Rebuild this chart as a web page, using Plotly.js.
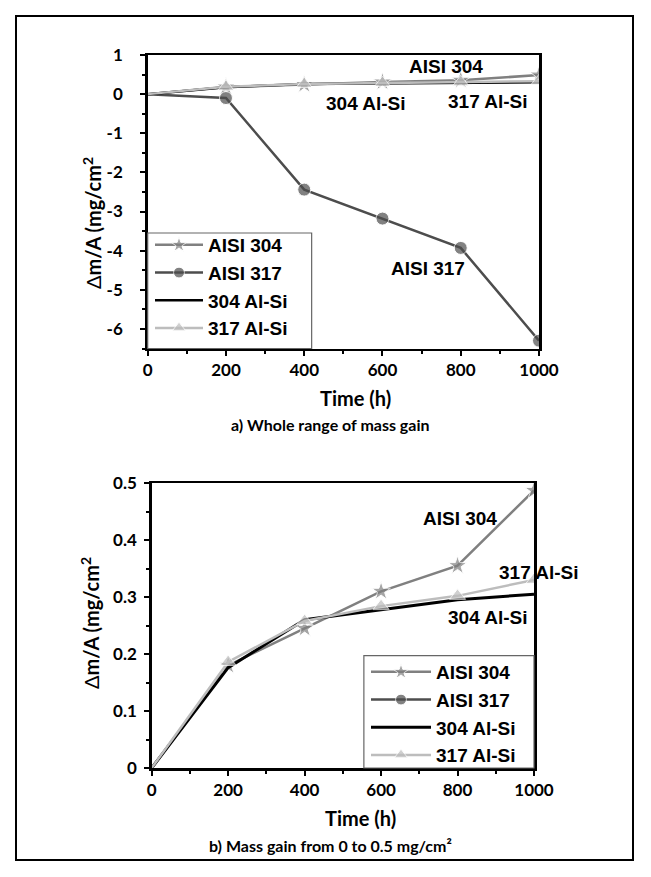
<!DOCTYPE html>
<html>
<head>
<meta charset="utf-8">
<script src="https://cdn.plot.ly/plotly-3.0.1.min.js"></script>
<style>html,body{margin:0;padding:0;background:#fff;}#chart{width:651px;height:877px;}</style>
</head>
<body>
<div id="chart"></div>
<script>
// ---- data ----
const timeH = [0, 200, 400, 600, 800, 1000];
const aisi304 = [0, 0.18, 0.245, 0.31, 0.355, 0.487];
const aisi317 = [0, -0.1, -2.44, -3.18, -3.93, -6.3];
const alsi304 = [0, 0.176, 0.26, 0.278, 0.295, 0.305];
const alsi317 = [0, 0.186, 0.258, 0.284, 0.302, 0.33];
const seriesNames = ['AISI 304', 'AISI 317', '304 Al-Si', '317 Al-Si'];
const xTicks = [0, 200, 400, 600, 800, 1000];
const yTicksA = [1, 0, -1, -2, -3, -4, -5, -6];
const yTicksB = [0, 0.1, 0.2, 0.3, 0.4, 0.5];

const W = 651, H = 877;
const px = (x, y) => ({x: x / W, y: 1 - y / H});
const hideZero = (xs, s) => xs.map(v => v === 0 ? 0 : s);

const styles = [
  {color: '#808080', symbol: 'star', size: 14, width: 2.5},
  {color: '#4d4d4d', symbol: 'circle', size: 13, width: 2.5},
  {color: '#000000', symbol: null, size: 0, width: 2.5},
  {color: '#bdbdbd', symbol: 'triangle-up', size: 14, width: 2.5}
];
const vals = [aisi304, aisi317, alsi304, alsi317];

const traces = [];
[['x', 'y', 'legend'], ['x2', 'y2', 'legend2']].forEach(([xa, ya, lg], pi) => {
  vals.forEach((v, i) => {
    const st = styles[i];
    const t = {
      x: timeH, y: v, xaxis: xa, yaxis: ya, name: seriesNames[i],
      legend: lg, legendgroup: lg + i,
      type: 'scatter',
      mode: st.symbol ? 'lines+markers' : 'lines',
      line: {color: st.color, width: (pi === 1 && i === 2) ? 3 : st.width},
      hoverinfo: 'skip'
    };
    if (st.symbol) t.marker = {symbol: st.symbol, color: st.color, size: hideZero(timeH, st.size)};
    traces.push(t);
  });
});

const tickFont = {family: 'Lato, sans-serif', size: 17, color: '#000', weight: 'bold'};
const axisCommon = {
  showgrid: false, zeroline: false, showline: true, linecolor: '#000', linewidth: 2.5,
  mirror: true, ticks: 'outside', ticklen: 5, tickwidth: 2, tickcolor: '#000',
  tickfont: tickFont, fixedrange: true
};

const annoFont = {family: 'Liberation Sans, Arial, sans-serif', size: 19, color: '#000', weight: 'bold'};
const titleFont = {family: 'Lato, sans-serif', size: 20, color: '#000', weight: 'bold'};
const capFont = {family: 'Lato, sans-serif', size: 16, color: '#000', weight: 'bold'};

function ann(text, x, y, font, extra) {
  const p = px(x, y);
  return Object.assign({text: text, xref: 'paper', yref: 'paper', x: p.x, y: p.y,
    xanchor: 'center', yanchor: 'middle', showarrow: false, font: font}, extra || {});
}

const ytitle = '<span style="font-weight:normal">Δ</span>m/A (mg/cm<sup>2</sup>';
const minorX = {dtick: 100, ticklen: 3, tickwidth: 2, ticks: 'outside', tickcolor: '#000'};

const layout = {
  width: W, height: H, margin: {l: 0, r: 0, t: 0, b: 0},
  paper_bgcolor: '#fff', plot_bgcolor: '#fff', showlegend: true,
  xaxis: Object.assign({}, axisCommon, {domain: [147.7 / W, 539 / W], range: [0, 1000],
    tickvals: xTicks, minor: minorX, anchor: 'y'}),
  yaxis: Object.assign({}, axisCommon, {domain: [1 - 348.5 / H, 1 - 55 / H], range: [-6.5, 1],
    tickvals: yTicksA, ticktext: yTicksA.map(v => String(v).replace('\u2212', '-')), ticklabelstandoff: 14,
    minor: {dtick: 0.5, ticklen: 3, tickwidth: 2, ticks: 'outside', tickcolor: '#000'}, anchor: 'x'}),
  xaxis2: Object.assign({}, axisCommon, {domain: [151.7 / W, 534 / W], range: [0, 1000],
    tickvals: xTicks, minor: minorX, anchor: 'y2'}),
  yaxis2: Object.assign({}, axisCommon, {domain: [1 - 768 / H, 1 - 483 / H], range: [0, 0.5],
    tickvals: yTicksB, ticktext: yTicksB.map(v => v === 0 ? '0' : v.toFixed(1)), ticklabelstandoff: 4,
    minor: {dtick: 0.05, ticklen: 3, tickwidth: 2, ticks: 'outside', tickcolor: '#000'}, anchor: 'x2'}),
  legend: {x: 150 / W, y: 1 - 226 / H, xanchor: 'left', yanchor: 'top', bgcolor: 'rgba(0,0,0,0)',
    borderwidth: 0, font: {family: 'Liberation Sans, Arial, sans-serif', size: 19, color: '#000', weight: 'bold'},
    traceorder: 'grouped', tracegroupgap: 0, itemwidth: 48},
  legend2: {x: 366 / W, y: 1 - 653 / H, xanchor: 'left', yanchor: 'top', bgcolor: 'rgba(0,0,0,0)',
    borderwidth: 0, font: {family: 'Liberation Sans, Arial, sans-serif', size: 19, color: '#000', weight: 'bold'},
    traceorder: 'grouped', tracegroupgap: 0, itemwidth: 60},
  shapes: [
    {type: 'rect', xref: 'paper', yref: 'paper', x0: 16 / W, x1: 633 / W, y0: 1 - 860 / H, y1: 1 - 16 / H,
      line: {color: '#000', width: 2}, layer: 'below'},
    {type: 'rect', xref: 'x domain', yref: 'y domain', x0: 0, x1: 0.419, y0: 0, y1: 0.3935,
      line: {color: '#666', width: 1.2}, fillcolor: 'rgba(0,0,0,0)'},
    {type: 'rect', xref: 'x2 domain', yref: 'y2 domain', x0: 0.555, x1: 1, y0: 0, y1: 0.394,
      line: {color: '#666', width: 1.2}, fillcolor: 'rgba(0,0,0,0)'}
  ],
  annotations: [
    ann('AISI 304', 446, 66, annoFont),
    ann('304 Al-Si', 366, 103, annoFont),
    ann('317 Al-Si', 488, 102, annoFont),
    ann('AISI 317', 428, 268, annoFont),
    ann('AISI 304', 460, 518, annoFont),
    ann('317 Al-Si', 539, 572, annoFont),
    ann('304 Al-Si', 488, 617, annoFont),
    ann(ytitle, 92, 223, titleFont, {textangle: -90}),
    ann(ytitle, 90, 623, titleFont, {textangle: -90}),
    ann('Time (h)', 355, 398, titleFont),
    ann('Time (h)', 360, 818, titleFont),
    ann('a) Whole range of mass gain', 331, 425, capFont),
    ann('b) Mass gain from 0 to 0.5 mg/cm²', 331, 845, capFont)
  ]
};

Plotly.newPlot('chart', traces, layout, {staticPlot: true, displayModeBar: false});
</script>
</body>
</html>
